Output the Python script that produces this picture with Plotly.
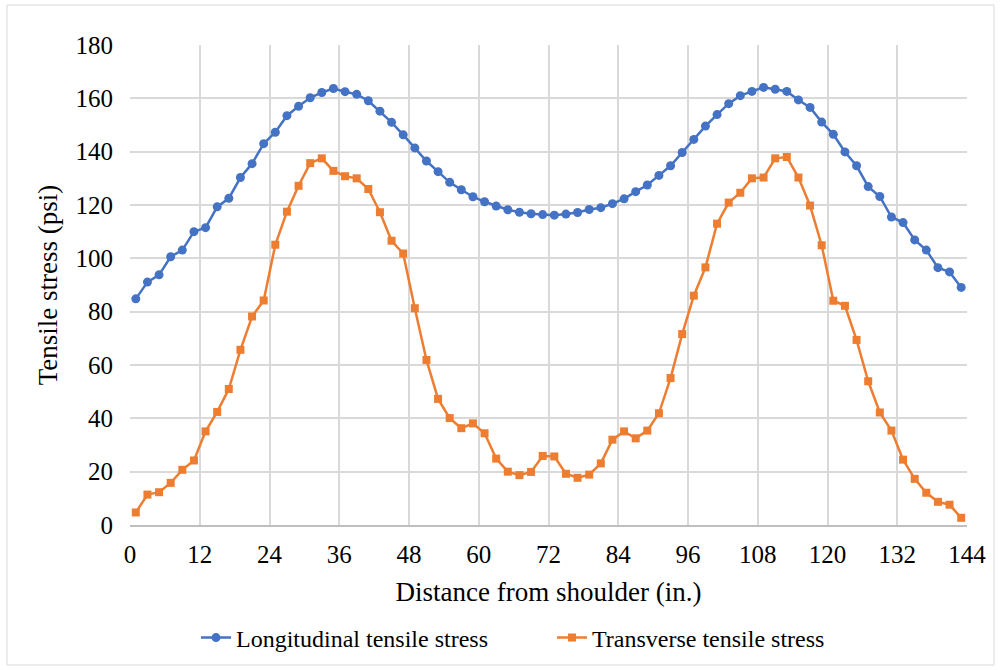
import plotly.graph_objects as go

x_in = list(range(1, 144, 2))
longitudinal = [84.8, 91.1, 93.8, 100.6, 103.1, 110.0, 111.5, 119.3, 122.5, 130.3,
                135.5, 143.0, 147.3, 153.5, 157.0, 160.2, 162.2, 163.7, 162.5, 161.5,
                159.1, 155.2, 151.0, 146.3, 141.4, 136.5, 132.5, 128.5, 125.7, 123.1,
                121.2, 119.6, 118.2, 117.3, 116.7, 116.4, 116.2, 116.6, 117.2, 118.3,
                119.0, 120.5, 122.3, 125.0, 127.5, 131.1, 134.7, 139.7, 144.6, 149.6,
                153.9, 158.0, 161.0, 162.6, 164.1, 163.4, 162.6, 159.4, 156.6, 151.1,
                146.5, 139.9, 134.7, 126.9, 123.2, 115.5, 113.4, 106.9, 103.1, 96.5,
                94.9, 89.1]
transverse = [4.7, 11.4, 12.3, 15.8, 20.7, 24.2, 35.1, 42.4, 51.0, 65.7,
              78.2, 84.2, 105.1, 117.5, 127.2, 135.7, 137.5, 132.8, 130.8, 130.0,
              126.0, 117.3, 106.6, 101.8, 81.3, 61.9, 47.3, 40.1, 36.3, 38.1,
              34.4, 24.9, 20.0, 18.7, 19.9, 25.9, 25.7, 19.2, 17.7, 18.9,
              23.1, 32.0, 35.1, 32.5, 35.4, 41.9, 55.1, 71.6, 86.0, 96.6,
              113.0, 120.9, 124.6, 130.0, 130.3, 137.5, 138.0, 130.3, 119.8, 104.9,
              84.1, 82.2, 69.4, 53.9, 42.2, 35.4, 24.5, 17.3, 12.1, 8.7,
              7.6, 2.7]
x_ticks = list(range(0, 145, 12))
y_ticks = list(range(0, 181, 20))

FONT = "Liberation Serif"
fig = go.Figure()
fig.add_trace(go.Scatter(x=x_in, y=longitudinal, mode="lines+markers",
                         name="Longitudinal tensile stress",
                         line=dict(color="#4472C4", width=2.5),
                         marker=dict(symbol="circle", size=9, color="#4472C4")))
fig.add_trace(go.Scatter(x=x_in, y=transverse, mode="lines+markers",
                         name="Transverse tensile stress",
                         line=dict(color="#ED7D31", width=2.5),
                         marker=dict(symbol="square", size=8, color="#ED7D31")))

L, R, T, B = 130, 33, 45, 145
W, H = 1000, 670
pw, ph = W - L - R, H - T - B
fig.update_layout(
    width=W, height=H,
    margin=dict(l=L, r=R, t=T, b=B),
    paper_bgcolor="white", plot_bgcolor="white",
    font=dict(family=FONT, size=25, color="black"),
    showlegend=True,
    legend=dict(orientation="h", xref="paper", x=(552 - L) / pw, xanchor="center",
                yref="container", y=1 - 638 / H, yanchor="middle",
                font=dict(family=FONT, size=24, color="black"), entrywidth=311, tracegroupgap=0),
    xaxis=dict(range=[0, 144], tickvals=x_ticks, showgrid=True, gridcolor="#d9d9d9",
               gridwidth=1.5, zeroline=False, showline=True, linecolor="#bfbfbf",
               linewidth=1.5, ticks="", ticklabelstandoff=6,
               tickfont=dict(family=FONT, size=25, color="black"),
               title=dict(text="Distance from shoulder (in.)",
                          font=dict(family=FONT, size=27, color="black"), standoff=15)),
    yaxis=dict(range=[0, 180], tickvals=y_ticks, showgrid=True, gridcolor="#d9d9d9",
               gridwidth=1.5, zeroline=False, showline=False, ticks="", ticklabelstandoff=16,
               tickfont=dict(family=FONT, size=25, color="black"),
               title=dict(text="Tensile stress (psi)",
                          font=dict(family=FONT, size=27, color="black"), standoff=10)),
    shapes=[dict(type="rect", xref="paper", yref="paper",
                 x0=(7 - L) / pw, x1=(994 - L) / pw,
                 y0=(H - B - 665) / ph, y1=(H - B - 5) / ph,
                 line=dict(color="#d9d9d9", width=1), fillcolor="rgba(0,0,0,0)", layer="below")],
)
fig.write_html("out.html")
